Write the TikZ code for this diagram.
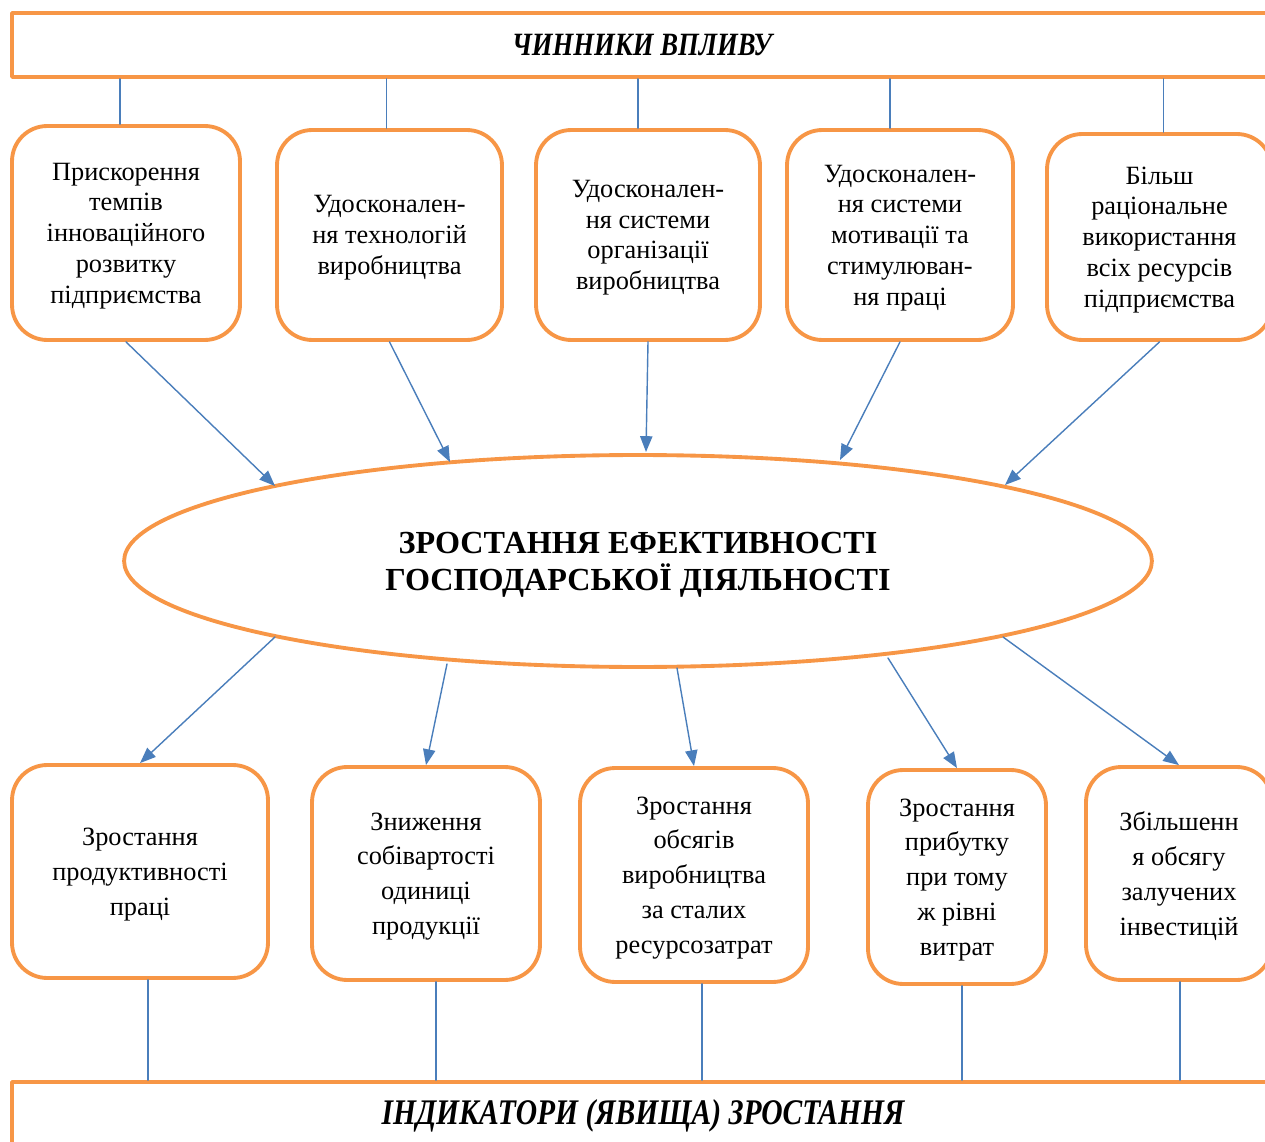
\documentclass[tikz,border=0pt]{standalone}
\usepackage{fontspec}
\setmainfont{Liberation Serif}
\usepackage{xcolor}
\usepackage{tikz}
\usetikzlibrary{shapes.geometric,arrows.meta,calc}
\definecolor{barorange}{HTML}{F79646}
\definecolor{linkblue}{HTML}{4A7EBB}
\tikzset{
	fact/.style={draw=barorange,line width=2.2pt,rounded corners=20pt,align=center,inner sep=2pt,
		text depth=-2.4pt,font=\fontsize{15}{17.5}\selectfont},
	result/.style={fact,font=\fontsize{15}{19.8}\selectfont},
	bar/.style={draw=barorange,line width=2.2pt,inner sep=0pt},
	link/.style={draw=linkblue,line width=0.8pt},
}
\newcommand{\bartext}[2]{\scalebox{0.82}[1]{\fontsize{#1}{20}\selectfont\bfseries\itshape #2}}

\begin{document}
\begin{tikzpicture}[line cap=round,line join=round,>={Triangle[length=9pt,width=7pt]},x=0.02cm,y=-0.02cm]
	\useasboundingbox (0,0) rectangle (1265,1142);
	% upper bar and factors
	\node[bar,minimum width=25.2cm,minimum height=1.28cm] (top) at (642,45) {\bartext{18.5}{ЧИННИКИ ВПЛИВУ}};
	\node[fact,minimum width=4.56cm,minimum height=4.28cm] (f1) at (126,233) {Прискорення\\темпів\\інноваційного\\розвитку\\підприємства};
	\node[fact,minimum width=4.5cm,minimum height=4.2cm] (f2) at (389.5,235) {Удосконален-\\ня технологій\\виробництва};
	\node[fact,minimum width=4.48cm,minimum height=4.2cm] (f3) at (648,235) {Удосконален-\\ня системи\\організації\\виробництва};
	\node[fact,minimum width=4.52cm,minimum height=4.2cm] (f4) at (900,235) {Удосконален-\\ня системи\\мотивації та\\стимулюван-\\ня праці};
	\node[fact,minimum width=4.5cm,minimum height=4.12cm] (f5) at (1159.5,237) {Більш\\раціональне\\використання\\всіх ресурсів\\підприємства};
	\foreach \n/\dx in {f1/-6,f2/-3,f3/-10,f4/-10,f5/4}
	\draw[link] ($(\n.north)+(\dx,0)$) -- ($(\n.north |- top.south)+(\dx,0)$);
	% central ellipse
	\node[ellipse,draw=barorange,line width=2.2pt,minimum width=20.56cm,minimum height=4.24cm,inner sep=0pt,align=center,
		text depth=-2.4pt,font=\fontsize{18.3}{21}\selectfont\bfseries] (ell) at (638,561) {ЗРОСТАННЯ ЕФЕКТИВНОСТІ\\ГОСПОДАРСЬКОЇ ДІЯЛЬНОСТІ};
	\draw[link,->] (f1.south) -- ($(ell.center)+(-363,-75)$);
	\draw[link,->] (f2.south) -- ($(ell.center)+(-188,-99)$);
	\draw[link,->] (f3.south) -- ($(ell.center)+(8,-109)$);
	\draw[link,->] (f4.south) -- ($(ell.center)+(202,-101)$);
	\draw[link,->] (f5.south) -- ($(ell.center)+(367,-76)$);
	% indicators
	\node[result,minimum width=5.12cm,minimum height=4.26cm] (r1) at (140,871.5) {Зростання\\продуктивності\\праці};
	\node[result,minimum width=4.56cm,minimum height=4.26cm] (r2) at (426,873.5) {Зниження\\собівартості\\одиниці\\продукції};
	\node[result,minimum width=4.56cm,minimum height=4.28cm] (r3) at (694,875) {Зростання\\обсягів\\виробництва\\за сталих\\ресурсозатрат};
	\node[result,minimum width=3.56cm,minimum height=4.28cm] (r4) at (957,877) {Зростання\\прибутку\\при тому\\ж рівні\\витрат};
	\node[result,minimum width=3.72cm,minimum height=4.26cm] (r5) at (1179,873.5) {Збільшенн\\я обсягу\\залучених\\інвестицій};
	\draw[link,->] ($(ell.center)+(-363,76)$) -- (r1.north);
	\draw[link,->] ($(ell.center)+(-191,103)$) -- (r2.north);
	\draw[link,->] ($(ell.center)+(39,107)$) -- (r3.north);
	\draw[link,->] ($(ell.center)+(250,97)$) -- (r4.north);
	\draw[link,->] ($(ell.center)+(365,76)$) -- (r5.north);
	% lower bar
	\node[bar,minimum width=25.24cm,minimum height=1.36cm] (bot) at (643,1116) {\bartext{20.5}{ІНДИКАТОРИ (ЯВИЩА) ЗРОСТАННЯ}};
	\foreach \n/\dx in {r1/8,r2/10,r3/8,r4/5,r5/1}
	\draw[link] ($(\n.south)+(\dx,0)$) -- ($(\n.south |- bot.north)+(\dx,0)$);
\end{tikzpicture}
\end{document}
